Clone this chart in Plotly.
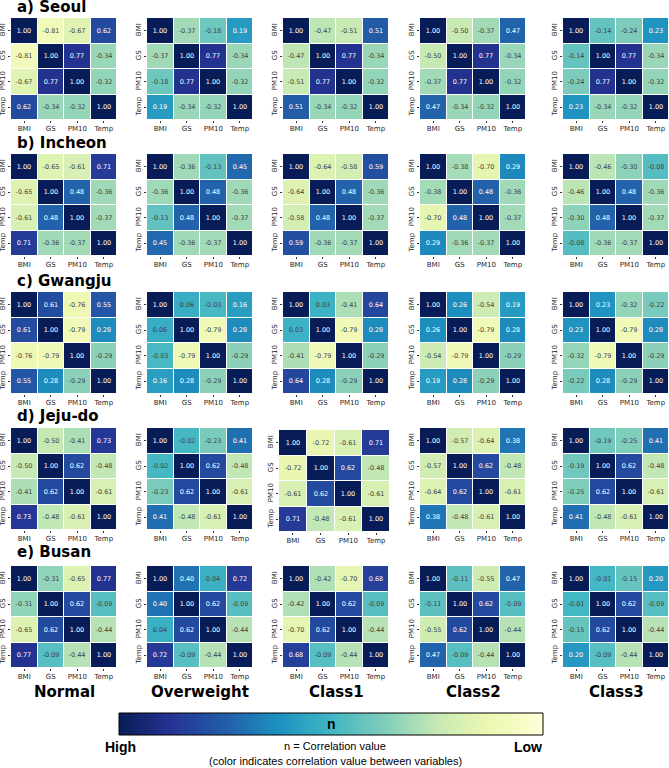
import plotly.graph_objects as go

variables = ["BMI", "GS", "PM10", "Temp"]
groups = ["Normal", "Overweight", "Class1", "Class2", "Class3"]
cities = ["a) Seoul", "b) Incheon", "c) Gwangju", "d) Jeju-do", "e) Busan"]

# correlations shared across groups within a city: GS-PM10, GS-Temp, PM10-Temp
seoul_env = [0.77, -0.34, -0.32]
incheon_env = [0.48, -0.36, -0.37]
gwangju_env = [-0.79, 0.28, -0.29]
jeju_env = [0.62, -0.48, -0.61]
busan_env = [0.62, -0.09, -0.44]

# BMI correlations per group (Normal, Overweight, Class1, Class2, Class3)
seoul_bmi_gs = [-0.81, -0.37, -0.47, -0.50, -0.14]
seoul_bmi_pm10 = [-0.67, -0.18, -0.51, -0.37, -0.24]
seoul_bmi_temp = [0.62, 0.19, 0.51, 0.47, 0.23]
incheon_bmi_gs = [-0.65, -0.36, -0.64, -0.38, -0.46]
incheon_bmi_pm10 = [-0.61, -0.13, -0.58, -0.70, -0.30]
incheon_bmi_temp = [0.71, 0.45, 0.59, 0.29, -0.08]
gwangju_bmi_gs = [0.61, 0.06, 0.03, 0.26, 0.23]
gwangju_bmi_pm10 = [-0.76, -0.03, -0.41, -0.54, -0.32]
gwangju_bmi_temp = [0.55, 0.16, 0.64, 0.19, -0.22]
jeju_bmi_gs = [-0.50, -0.02, -0.72, -0.57, -0.19]
jeju_bmi_pm10 = [-0.41, -0.23, -0.61, -0.64, -0.25]
jeju_bmi_temp = [0.73, 0.41, 0.71, 0.38, 0.41]
busan_bmi_gs = [-0.31, 0.40, -0.42, -0.11, -0.01]
busan_bmi_pm10 = [-0.65, 0.04, -0.70, -0.55, -0.15]
busan_bmi_temp = [0.77, 0.72, 0.68, 0.47, 0.20]

colorbar_levels = [1.0, 0.75, 0.5, 0.25, 0.0, -0.25, -0.5, -0.75, -1.0]

city_data = [
    (seoul_env, seoul_bmi_gs, seoul_bmi_pm10, seoul_bmi_temp),
    (incheon_env, incheon_bmi_gs, incheon_bmi_pm10, incheon_bmi_temp),
    (gwangju_env, gwangju_bmi_gs, gwangju_bmi_pm10, gwangju_bmi_temp),
    (jeju_env, jeju_bmi_gs, jeju_bmi_pm10, jeju_bmi_temp),
    (busan_env, busan_bmi_gs, busan_bmi_pm10, busan_bmi_temp),
]

YLGNBU = ["#ffffd9", "#edf8b1", "#c7e9b4", "#7fcdbb", "#41b6c4",
          "#1d91c0", "#225ea8", "#253494", "#081d58"]
colorscale = [[i / 8, c] for i, c in enumerate(YLGNBU)]

W, H = 669, 768
col_left = [11, 147, 283, 420, 563]
row_top = [18, 154, 292, 428, 566]
cell_w, cell_h = 106, 102

def matrix(env, bg, bp, bt, k):
    gp, gt, pt = env
    return [[1.0, bg[k], bp[k], bt[k]],
            [bg[k], 1.0, gp, gt],
            [bp[k], gp, 1.0, pt],
            [bt[k], gt, pt, 1.0]]

fig = go.Figure()
layout = {}
tickfont = dict(family="DejaVu Sans", size=7, color="#262626")

for r in range(5):
    env, bg, bp, bt = city_data[r]
    for c in range(5):
        idx = r * 5 + c + 1
        xs = "x" if idx == 1 else f"x{idx}"
        ys = "y" if idx == 1 else f"y{idx}"
        left, top, w, h = col_left[c], row_top[r], cell_w, cell_h
        if r == 3 and c == 2:
            left, top, w, h = 279, 430, 111, 102
        fig.add_trace(go.Heatmap(
            z=matrix(env, bg, bp, bt, c), x=variables, y=variables,
            colorscale=colorscale, zmin=-1, zmax=1, showscale=False,
            xgap=1, ygap=1, texttemplate="%{z:.2f}",
            textfont=dict(family="DejaVu Sans", size=6.5),
            hoverinfo="skip", xaxis=xs, yaxis=ys))
        layout["xaxis" if idx == 1 else f"xaxis{idx}"] = dict(
            domain=[left / W, (left + w) / W], anchor=ys,
            tickfont=tickfont, ticks="outside", ticklen=2, tickwidth=0.8,
            tickcolor="#333", showgrid=False, zeroline=False, showline=False,
            fixedrange=True)
        layout["yaxis" if idx == 1 else f"yaxis{idx}"] = dict(
            domain=[1 - (top + h) / H, 1 - top / H], anchor=xs,
            autorange="reversed", tickangle=-90,
            tickfont=tickfont, ticks="outside", ticklen=2, tickwidth=0.8,
            tickcolor="#333", showgrid=False, zeroline=False, showline=False,
            fixedrange=True)

# colour bar drawn as a smooth heatmap
cb_left, cb_right, cb_top, cb_bot = 119, 543, 713, 735
fig.add_trace(go.Heatmap(
    z=[colorbar_levels], x=colorbar_levels, y=[0], colorscale=colorscale,
    zmin=-1, zmax=1, zsmooth="best", showscale=False, hoverinfo="skip",
    xaxis="x26", yaxis="y26"))
layout["xaxis26"] = dict(domain=[cb_left / W, cb_right / W], anchor="y26",
                         range=[1, -1], visible=False, fixedrange=True)
layout["yaxis26"] = dict(domain=[1 - cb_bot / H, 1 - cb_top / H], anchor="x26",
                         range=[-0.5, 0.5], visible=False, fixedrange=True)

shapes = [dict(type="rect", xref="x26 domain", yref="y26 domain",
               x0=0, x1=1, y0=0, y1=1, line=dict(color="black", width=1))]

annotations = []
title_y = [7, 143, 281, 416, 552]
for r, name in enumerate(cities):
    annotations.append(dict(
        text=f"<b>{name}</b>", x=15 / W, y=1 - title_y[r] / H,
        xref="paper", yref="paper", xanchor="left", yanchor="middle",
        showarrow=False, font=dict(family="DejaVu Sans", size=15, color="black")))
for c, g in enumerate(groups):
    annotations.append(dict(
        text=f"<b>{g}</b>", x=(col_left[c] + cell_w / 2) / W, y=1 - 692 / H,
        xref="paper", yref="paper", xanchor="center", yanchor="middle",
        showarrow=False, font=dict(family="DejaVu Sans", size=15, color="black")))

annotations += [
    dict(text="<b>n</b>", x=331 / W, y=1 - 724 / H, xref="paper", yref="paper",
         xanchor="center", yanchor="middle", showarrow=False,
         font=dict(family="Liberation Sans", size=14, color="black")),
    dict(text="<b>High</b>", x=120 / W, y=1 - 747 / H, xref="paper", yref="paper",
         xanchor="center", yanchor="middle", showarrow=False,
         font=dict(family="Liberation Sans", size=14, color="black")),
    dict(text="<b>Low</b>", x=528 / W, y=1 - 747 / H, xref="paper", yref="paper",
         xanchor="center", yanchor="middle", showarrow=False,
         font=dict(family="Liberation Sans", size=14, color="black")),
    dict(text="n = Correlation value", x=335 / W, y=1 - 746 / H, xref="paper", yref="paper",
         xanchor="center", yanchor="middle", showarrow=False,
         font=dict(family="Liberation Sans", size=11, color="black")),
    dict(text="(color indicates correlation value between variables)", x=335 / W,
         y=1 - 761 / H, xref="paper", yref="paper",
         xanchor="center", yanchor="middle", showarrow=False,
         font=dict(family="Liberation Sans", size=11, color="black")),
]

fig.update_layout(
    width=W, height=H, margin=dict(l=0, r=0, t=0, b=0),
    paper_bgcolor="white", plot_bgcolor="white", showlegend=False,
    shapes=shapes, annotations=annotations, **layout)

fig.write_html("out.html", config={"displayModeBar": False})
